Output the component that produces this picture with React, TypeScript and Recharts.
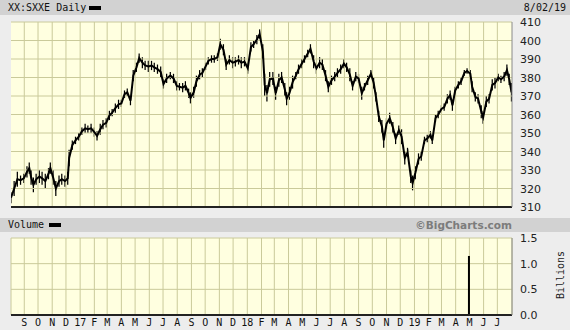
import React from 'react';
import { ComposedChart, Bar, Line, XAxis, YAxis, CartesianGrid, ReferenceLine } from 'recharts';

const startDate = '2016-08-03';
const endDate = '2019-08-02';

const dates = [
  '2016-08-03','2016-08-10','2016-08-17','2016-08-24','2016-08-31','2016-09-07','2016-09-12','2016-09-16','2016-09-21','2016-09-27',
  '2016-10-04','2016-10-10','2016-10-17','2016-10-24','2016-10-28','2016-11-03','2016-11-09','2016-11-16','2016-11-22','2016-11-29',
  '2016-12-05','2016-12-08','2016-12-15','2016-12-22','2016-12-29','2017-01-05','2017-01-12','2017-01-18','2017-01-25','2017-02-01',
  '2017-02-07','2017-02-14','2017-02-20','2017-02-27','2017-03-06','2017-03-12','2017-03-19','2017-03-26','2017-04-01','2017-04-08',
  '2017-04-14','2017-04-21','2017-04-27','2017-05-04','2017-05-10','2017-05-17','2017-05-23','2017-05-30','2017-06-06','2017-06-12',
  '2017-06-19','2017-06-26','2017-07-02','2017-07-09','2017-07-17','2017-07-24','2017-07-31','2017-08-06','2017-08-13','2017-08-19',
  '2017-08-26','2017-08-30','2017-09-06','2017-09-12','2017-09-19','2017-09-25','2017-10-02','2017-10-08','2017-10-15','2017-10-21',
  '2017-10-28','2017-11-03','2017-11-10','2017-11-16','2017-11-23','2017-11-30','2017-12-06','2017-12-13','2017-12-19','2017-12-26',
  '2018-01-02','2018-01-09','2018-01-15','2018-01-22','2018-01-28','2018-02-04','2018-02-08','2018-02-13','2018-02-19','2018-02-26',
  '2018-03-04','2018-03-11','2018-03-17','2018-03-24','2018-03-28','2018-04-03','2018-04-10','2018-04-17','2018-04-23','2018-04-30',
  '2018-05-06','2018-05-13','2018-05-19','2018-05-26','2018-06-01','2018-06-08','2018-06-14','2018-06-21','2018-06-27','2018-07-04',
  '2018-07-11','2018-07-17','2018-07-24','2018-07-31','2018-08-06','2018-08-13','2018-08-19','2018-08-26','2018-09-01','2018-09-08',
  '2018-09-14','2018-09-21','2018-09-28','2018-10-04','2018-10-09','2018-10-15','2018-10-22','2018-10-26','2018-11-01','2018-11-08',
  '2018-11-15','2018-11-21','2018-11-28','2018-12-04','2018-12-11','2018-12-17','2018-12-24','2018-12-28','2019-01-03','2019-01-10',
  '2019-01-16','2019-01-23','2019-01-29','2019-02-05','2019-02-09','2019-02-16','2019-02-22','2019-03-01','2019-03-07','2019-03-14',
  '2019-03-20','2019-03-25','2019-03-31','2019-04-07','2019-04-13','2019-04-20','2019-04-26','2019-05-03','2019-05-07','2019-05-14',
  '2019-05-20','2019-05-27','2019-05-31','2019-06-07','2019-06-13','2019-06-20','2019-06-26','2019-07-03','2019-07-09','2019-07-16',
  '2019-07-22','2019-07-27','2019-08-01',
];

const lows = [
  312,316,321,322,323,326,328,322,318,322,
  323,322,320,325,328,322,316,321,322,321,
  322,332,341,344,346,349,350,350,350,348,
  346,349,352,353,357,359,361,363,364,369,
  370,365,378,383,388,385,384,383,384,383,
  382,380,374,377,379,377,373,373,372,373,
  369,366,369,375,379,380,384,387,388,388,
  389,395,392,384,387,385,386,387,385,386,
  382,394,396,398,401,390,370,367,375,376,
  368,375,377,370,365,368,374,379,382,385,
  388,391,393,385,382,385,384,378,372,376,
  378,380,382,385,383,378,373,378,377,368,
  373,376,380,374,367,356,350,342,352,355,
  350,344,349,344,333,337,323,319,325,333,
  335,344,345,347,344,356,358,361,362,366,
  368,362,371,374,376,381,382,380,372,367,
  366,358,355,364,366,373,374,378,377,378,
  381,376,367,
];

const highs = [
  318,324,329,327,328,332,334,330,326,328,
  330,329,328,331,334,330,324,327,328,327,
  329,341,346,348,350,353,355,354,355,353,
  351,355,357,358,362,363,366,368,368,373,
  374,370,384,388,393,391,389,389,389,388,
  387,386,379,382,383,382,378,377,377,378,
  374,372,375,381,384,385,388,391,392,392,
  393,401,398,390,392,391,391,392,391,391,
  388,399,400,403,406,398,382,376,383,383,
  375,382,383,377,372,375,381,383,387,390,
  392,395,398,392,388,391,390,384,378,381,
  383,385,387,390,388,385,378,383,382,375,
  377,381,384,380,372,362,357,350,358,361,
  356,350,354,352,340,342,330,327,332,339,
  340,348,349,351,348,360,362,365,366,371,
  373,368,375,378,380,384,385,384,378,372,
  371,365,362,370,371,379,380,382,381,383,
  387,382,377,
];

const priceTicks = [310, 320, 330, 340, 350, 360, 370, 380, 390, 400, 410];
const volumeDates = ['2019-04-30'];
const volumeValues = [1.15];
const volumeTicks = [0, 0.5, 1.0, 1.5];
const monthTicks = [
  '2016-09-01','2016-10-01','2016-11-01','2016-12-01','2017-01-01','2017-02-01','2017-03-01','2017-04-01','2017-05-01','2017-06-01',
  '2017-07-01','2017-08-01','2017-09-01','2017-10-01','2017-11-01','2017-12-01','2018-01-01','2018-02-01','2018-03-01','2018-04-01',
  '2018-05-01','2018-06-01','2018-07-01','2018-08-01','2018-09-01','2018-10-01','2018-11-01','2018-12-01','2019-01-01','2019-02-01',
  '2019-03-01','2019-04-01','2019-05-01','2019-06-01','2019-07-01',
];
const monthLetters = ['J','F','M','A','M','J','J','A','S','O','N','D'];

const ts = (s: string) => Date.UTC(+s.slice(0, 4), +s.slice(5, 7) - 1, +s.slice(8, 10));

const priceData = dates.map((d, i) => ({ t: ts(d), lo: lows[i], hi: highs[i] }));
const volumeData = volumeDates.map((d, i) => ({ t: ts(d), v: volumeValues[i] }));
const xDomain = [ts(startDate), ts(endDate)];
const xTicks = monthTicks.map(ts);

const monthLabel = (v: number) => {
  const d = new Date(v);
  const m = d.getUTCMonth();
  if (m === 0) return String(d.getUTCFullYear()).slice(2);
  return monthLetters[m];
};

const MONO = '"DejaVu Sans Mono", monospace';
const SANS = '"DejaVu Sans", Verdana, sans-serif';
const GRID = '#CACA9A';

const RightTick = (props: any) => {
  const { x, y, payload, fmt } = props;
  return (
    <text x={x} y={y} dy={4} textAnchor="start" fontFamily={SANS} fontSize={11} fill="#222">
      {fmt ? fmt(payload.value) : payload.value}
    </text>
  );
};

const MonthTick = (props: any) => {
  const { x, y, payload } = props;
  return (
    <text x={x} y={y} dy={3} textAnchor="middle" fontFamily={MONO} fontSize={10} fill="#111">
      {monthLabel(payload.value)}
    </text>
  );
};

export default function App() {
  return (
    <div style={{ position: 'absolute', left: 0, top: 0, width: 570, height: 330, background: '#EDEDED', overflow: 'hidden' }}>
      <div style={{ position: 'absolute', left: 0, top: 0, width: 570, height: 15, background: '#D2D2D2' }} />
      <div style={{ position: 'absolute', left: 8, top: 1, fontFamily: MONO, fontSize: 10, color: '#111', lineHeight: '13px', whiteSpace: 'nowrap' }}>
        XX:SXXE Daily
      </div>
      <div style={{ position: 'absolute', left: 89, top: 6, width: 12, height: 4, background: '#000' }} />
      <div style={{ position: 'absolute', right: 4, top: 1, fontFamily: MONO, fontSize: 10, color: '#111', lineHeight: '13px' }}>
        8/02/19
      </div>

      <div style={{ position: 'absolute', left: 0, top: 218, width: 570, height: 14, background: '#D2D2D2' }} />
      <div style={{ position: 'absolute', left: 8, top: 218, fontFamily: MONO, fontSize: 10, color: '#111', lineHeight: '14px' }}>
        Volume
      </div>
      <div style={{ position: 'absolute', left: 49, top: 223, width: 12, height: 4, background: '#000' }} />
      <div style={{ position: 'absolute', right: 58, top: 218, fontFamily: SANS, fontWeight: 'bold', fontSize: 10.5, color: '#7C7C7C', lineHeight: '14px' }}>
        ©BigCharts.com
      </div>
      <div style={{ position: 'absolute', left: 560, top: 275, transform: 'translate(-50%, -50%) rotate(-90deg)', fontFamily: MONO, fontSize: 10, color: '#222', whiteSpace: 'nowrap' }}>
        Billions
      </div>

      <div style={{ position: 'absolute', left: 0, top: 0 }}>
        <ComposedChart width={570} height={215} data={priceData} margin={{ top: 22, right: 0, bottom: 7, left: 11 }}>
          <CartesianGrid stroke={GRID} fill="#FFFFE0" horizontal={false} vertical={false} />
          <XAxis dataKey="t" type="number" domain={xDomain} ticks={xTicks} interval={0} allowDataOverflow tick={false} tickLine={false} height={1} axisLine={{ stroke: '#222', strokeWidth: 2 }} />
          <YAxis orientation="right" domain={[310, 410]} ticks={priceTicks} interval={0} allowDataOverflow width={58} tickLine={false} tickSize={0} tickMargin={8} axisLine={{ stroke: '#8A8A8A' }} tick={<RightTick />} />
          {xTicks.map((t) => (
            <ReferenceLine key={'vx' + t} x={t} stroke={GRID} strokeWidth={1} ifOverflow="hidden" />
          ))}
          {priceTicks.map((v) => (
            <ReferenceLine key={'hy' + v} y={v} stroke={GRID} strokeWidth={1} />
          ))}
          <Bar dataKey={(d: any) => [d.lo, d.hi]} barSize={3} fill="#000" isAnimationActive={false} />
          <Line dataKey={(d: any) => (d.lo + d.hi) / 2} stroke="#000" strokeWidth={2} dot={false} isAnimationActive={false} />
        </ComposedChart>
      </div>

      <div style={{ position: 'absolute', left: 0, top: 230 }}>
        <ComposedChart width={570} height={100} data={volumeData} margin={{ top: 8, right: 0, bottom: 0, left: 11 }}>
          <CartesianGrid stroke={GRID} fill="#FFFFE0" />
          <XAxis dataKey="t" type="number" domain={xDomain} ticks={xTicks} allowDataOverflow tickLine={false} height={15} axisLine={{ stroke: '#222', strokeWidth: 2 }} tick={<MonthTick />} interval={0} />
          <YAxis orientation="right" domain={[0, 1.5]} ticks={volumeTicks} interval={0} allowDataOverflow width={58} tickLine={false} tickSize={0} tickMargin={8} axisLine={{ stroke: '#8A8A8A' }} tick={<RightTick fmt={(v: number) => v.toFixed(1)} />} />
          <Bar dataKey="v" barSize={2} fill="#000" isAnimationActive={false} />
        </ComposedChart>
      </div>
    </div>
  );
}
